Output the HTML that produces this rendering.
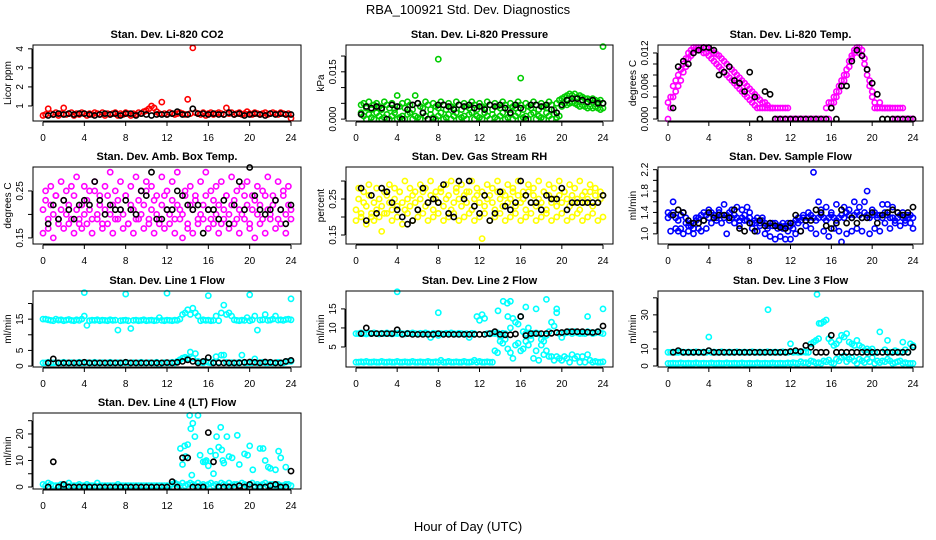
<!DOCTYPE html>
<html><head><meta charset="utf-8">
<style>
html,body{margin:0;padding:0;background:#fff;}
svg{display:block;font-family:"Liberation Sans",sans-serif;}
</style></head>
<body>
<svg id="chart" width="936" height="540" viewBox="0 0 936 540">
<text x="468" y="14" text-anchor="middle" font-size="13">RBA_100921  Std. Dev. Diagnostics</text>
<text x="468" y="531" text-anchor="middle" font-size="13">Hour of Day (UTC)</text>
</svg>
<script>
// ---------- data ----------
const hourTicks = [0,4,8,12,16,20,24];
const co2Red = "0.5 0.55 0.85 0.6 0.55 0.65 0.5 0.6 0.9 0.55 0.6 0.65 0.5 0.6 0.55 0.65 0.6 0.5 0.6 0.55 0.65 0.6 0.55 0.65 0.5 0.6 0.55 0.6 0.65 0.5 0.6 0.55 0.65 0.6 0.5 0.6 0.55 0.65 0.6 0.7 0.75 0.85 1.0 0.9 0.7 0.6 1.2 0.6 0.55 0.65 0.6 0.55 0.6 0.65 0.6 0.55 1.35 0.6 4.05 0.65 0.6 0.55 0.65 0.5 0.6 0.65 0.55 0.6 0.65 0.6 0.55 0.9 0.6 0.65 0.55 0.6 0.65 0.55 0.6 0.7 0.6 0.55 0.65 0.6 0.55 0.6 0.65 0.55 0.6 0.65 0.6 0.55 0.65 0.6 0.55 0.6 0.35".split(" ").map(Number);
const co2Black = "0.5 0.55 0.6 0.55 0.6 0.55 0.6 0.6 0.55 0.5 0.55 0.6 0.55 0.6 0.5 0.6 0.6 0.5 0.6 0.55 0.5 0.55 0.55 0.55 0.6 0.7 0.55 0.55 0.85 0.6 0.6 0.55 0.6 0.55 0.55 0.65 0.55 0.6 0.5 0.55 0.6 0.55 0.5 0.6 0.55 0.6 0.55 0.55".split(" ").map(Number);
const presGreenLo = "NaN NaN 0.002 0.001 0 0.0015 0.0005 0 0.002 0.001 0 0.0005 0.0015 0 0.001 0.002 0 0.0005 0.001 0 0.0015 0.002 0 0.001 0.0005 0 0.002 0.001 0 0.0015 0.0005 0 0.001 0.002 0 0.0005 0.0015 0 0.001 0.002 0 0.0005 0.001 0 0.0015 0.002 0 0.001 0.0005 0 0.002 0.001 0 0.0015 0.0005 0 0.001 0.002 0 0.0005 0.0015 0 0.001 0.002 0 0.0005 0.001 0 0.0015 0.002 0 0.001 0.0005 0 0.002 0.001 0 0.0015 0.0005 0.001 0.004 0.005 0.0045 0.005 0.0055 0.005 0.0045 0.004 0.0045 0.004 0.0035 0.004 0.0035 0.004 0.0035 0.003 0.0035".split(" ").map(Number);
const presGreenHi = "NaN NaN 0.0045 0.005 0.0035 0.0055 0.003 0.0045 0.005 0.004 0.003 0.0055 0.0045 0.0035 0.005 0.003 0.0075 0.004 0.005 0.0035 0.0055 0.0045 0.003 0.0075 0.005 0.004 0.0035 0.0055 0.0045 0.003 0.005 0.004 0.0035 0.0055 0.0045 0.003 0.005 0.004 0.0035 0.0055 0.0045 0.003 0.005 0.004 0.0035 0.0055 0.0045 0.003 0.005 0.004 0.0035 0.0055 0.0045 0.003 0.005 0.004 0.0035 0.0055 0.0045 0.003 0.005 0.004 0.0035 0.0055 0.0045 0.003 0.005 0.004 0.0035 0.0055 0.0045 0.003 0.005 0.004 0.0035 0.0055 0.0045 0.003 0.005 0.006 0.0065 0.007 0.0075 0.008 0.0075 0.008 0.007 0.0075 0.007 0.0065 0.0065 0.006 0.0065 0.006 0.0055 0.006 0.005".split(" ").map(Number);
const presOutX = [8,16,24];
const presOutY = [0.019,0.013,0.023];
const presBlack = "0.0015 0.004 0.0035 0.004 0.0035 0 0.0045 0.004 0 0.003 0.0045 0.005 0.002 0 0 0.0045 0.0045 0.004 0.003 0.0045 0.004 0.0045 0.0035 0.004 0.003 0.0045 0.004 0.0045 0.0035 0.002 0.0045 0.0035 0 0.0045 0.0045 0.004 0.0045 0.003 0.002 0.0045 0.006 0.0065 0.0065 0.006 0.0055 0.006 0.005 0.005".split(" ").map(Number);
const tempMain = "0 0.004 0.006 0.007 0.008 0.009 0.010 0.011 0.012 0.0125 0.013 0.013 0.013 0.013 0.013 0.013 0.0128 0.0125 0.012 0.0118 0.0115 0.011 0.0105 0.010 0.0095 0.009 0.0085 0.008 0.0075 0.007 0.0065 0.006 0.0055 0.005 0.0045 0.004 0.0035 0.003 0.003 0.0025 0.002 0.002 0 0 0 0 0 0 0 0 0 0 0 0 0 0 0 0 0 0 0 0 0 0 0.003 0.004 0.005 0.006 0.007 0.008 0.009 0.0105 0.0115 0.0125 0.013 0.013 0.0125 0.011 0.009 0.007 0.005 0.003 0.002 0.002 0.002 0.002 0.002 0.002 0 0 0 0 0.002 0 0 0 0".split(" ").map(Number);
const tempSpread = "0.003 0.002 0.004 0.005 0.006 0.007 0.0085 0.0095 0.011 0.0115 0.012 0.0125 0.0125 0.0125 0.012 0.012 0.0115 0.011 0.0105 0.010 0.0095 0.009 0.0085 0.008 0.0075 0.007 0.0065 0.006 0.0055 0.005 0.0045 0.004 0.0035 0.003 0.0025 0.002 0.002 0.002 0.002 0.002 0.002 0.002 0.002 0.002 0.002 0.002 0.002 0.002 0 0 0 0 0 0 0 0 0 0 0 0 0 0 0.002 0.003 0.002 0.003 0.004 0.005 0.006 0.007 0.008 0.0095 0.011 0.012 0.0125 0.012 0.0115 0.010 0.008 0.006 0.004 0.002 0.002 0.003 0.002 0.002 0.002 0.002 0.002 0.002 0.002 0.002 0 0 0 0 0".split(" ").map(Number);
const tempBlack = "0.002 0.0095 0.0105 0.010 0.012 0.0125 0.013 0.013 0.0125 0.008 0.0085 0.0095 0.007 0.0065 0.005 0.0085 0.004 0 0.005 0.0045 0 0 0 0 0 0 0 0 0 0 0 0.002 0 0.006 0.006 0.0105 0.0125 0.0115 0.009 0.0065 0.0045 0 0 0 0 0 0 0".split(" ").map(Number);
const ambA = "0.21 0.23 0.19 0.22 0.2 0.24 0.18 0.21 0.23 0.2 0.22 0.19 0.24 0.21 0.18 0.22 0.2 0.23 0.21 0.19 0.25 0.2 0.22 0.18 0.21 0.24 0.2 0.22 0.19 0.23 0.21 0.2 0.24 0.18 0.22 0.21 0.19 0.23 0.2 0.22 0.25 0.19 0.21 0.23 0.2 0.18 0.22 0.24 0.21 0.2 0.23 0.19 0.22 0.21 0.2 0.24 0.18 0.22 0.21 0.23 0.19 0.2 0.22 0.24 0.21 0.19 0.23 0.2 0.22 0.18 0.21 0.24 0.2 0.22 0.23 0.19 0.21 0.2 0.24 0.22 0.18 0.21 0.23 0.2 0.22 0.19 0.24 0.21 0.2 0.22 0.23 0.19 0.21 0.24 0.2 0.22 0.21".split(" ").map(Number);
const ambB = "0.16 0.25 0.17 0.26 0.15 0.24 0.19 0.27 0.17 0.25 0.18 0.26 0.16 0.28 0.19 0.17 0.26 0.18 0.25 0.16 0.27 0.19 0.24 0.17 0.26 0.18 0.29 0.16 0.25 0.19 0.27 0.17 0.24 0.18 0.26 0.16 0.28 0.19 0.25 0.17 0.27 0.18 0.26 0.16 0.24 0.19 0.28 0.17 0.25 0.18 0.27 0.16 0.29 0.19 0.15 0.25 0.17 0.26 0.16 0.24 0.18 0.27 0.19 0.29 0.17 0.25 0.18 0.26 0.16 0.27 0.19 0.24 0.17 0.28 0.18 0.25 0.16 0.26 0.19 0.27 0.17 0.24 0.15 0.26 0.18 0.25 0.16 0.28 0.19 0.24 0.17 0.27 0.18 0.25 0.16 0.26 0.19".split(" ").map(Number);
const ambBlack = "0.18 0.22 0.19 0.23 0.21 0.19 0.22 0.23 0.22 0.27 0.23 0.2 0.22 0.21 0.21 0.23 0.21 0.2 0.25 0.24 0.29 0.19 0.19 0.21 0.21 0.25 0.24 0.22 0.21 0.22 0.16 0.21 0.21 0.19 0.23 0.18 0.22 0.27 0.21 0.3 0.24 0.21 0.2 0.21 0.23 0.21 0.18 0.22".split(" ").map(Number);
const rhA = "0.22 0.25 0.21 0.24 0.23 0.26 0.2 0.24 0.22 0.25 0.23 0.21 0.26 0.24 0.22 0.25 0.23 0.27 0.24 0.22 0.25 0.23 0.26 0.24 0.22 0.25 0.27 0.23 0.24 0.26 0.22 0.25 0.24 0.27 0.23 0.25 0.26 0.22 0.24 0.27 0.25 0.23 0.26 0.24 0.27 0.22 0.25 0.26 0.24 0.27 0.23 0.25 0.26 0.24 0.22 0.27 0.25 0.23 0.26 0.24 0.25 0.27 0.23 0.26 0.24 0.25 0.22 0.27 0.24 0.26 0.23 0.25 0.24 0.27 0.22 0.26 0.24 0.25 0.23 0.26 0.24 0.27 0.25 0.23 0.26 0.24 0.25 0.22 0.26 0.24 0.25 0.27 0.23 0.26 0.24 0.25 0.26".split(" ").map(Number);
const rhB = "0.19 0.28 0.2 0.27 0.18 0.29 0.21 0.19 0.28 0.2 0.16 0.27 0.21 0.29 0.19 0.28 0.2 0.27 0.18 0.3 0.21 0.28 0.19 0.27 0.2 0.29 0.21 0.28 0.19 0.3 0.2 0.27 0.21 0.28 0.19 0.29 0.2 0.3 0.21 0.28 0.19 0.29 0.2 0.27 0.21 0.3 0.19 0.28 0.2 0.14 0.21 0.29 0.19 0.28 0.2 0.3 0.21 0.27 0.19 0.29 0.2 0.28 0.21 0.3 0.19 0.27 0.2 0.29 0.21 0.28 0.19 0.3 0.2 0.27 0.21 0.29 0.19 0.28 0.2 0.3 0.21 0.27 0.19 0.29 0.2 0.28 0.21 0.3 0.19 0.27 0.2 0.29 0.21 0.28 0.19 0.27 0.2".split(" ").map(Number);
const rhBlack = "0.28 0.19 0.26 0.21 0.28 0.27 0.24 0.22 0.2 0.18 0.19 0.22 0.28 0.24 0.25 0.24 0.29 0.21 0.2 0.3 0.25 0.3 0.23 0.21 0.26 0.19 0.21 0.27 0.23 0.22 0.24 0.3 0.26 0.24 0.24 0.22 0.26 0.25 0.25 0.28 0.22 0.24 0.24 0.24 0.24 0.24 0.24 0.26".split(" ").map(Number);
const flowA = "1.3 1.35 1.4 1.3 1.25 1.35 1.4 1.3 1.15 1.2 1.1 1.25 1.3 1.35 1.4 1.35 1.3 1.4 1.35 1.3 1.4 1.35 1.3 1.35 1.4 1.3 1.35 1.3 1.25 1.3 1.35 1.25 1.3 1.2 1.25 1.3 1.2 1.25 1.2 1.15 1.2 1.15 1.2 1.1 1.15 1.2 1.15 1.2 1.15 1.2 1.25 1.2 1.25 1.3 1.25 1.3 1.35 1.3 1.25 1.3 1.35 1.3 1.25 1.3 1.35 1.3 1.25 1.3 1.35 1.3 1.4 1.35 1.3 1.35 1.4 1.35 1.3 1.4 1.35 1.3 1.35 1.4 1.3 1.35 1.3 1.4 1.35 1.3 1.3 1.25 1.3 1.35 1.3 1.25 1.3 1.35 1.3".split(" ").map(Number);
const flowB = "1.4 1.05 1.6 1.1 1.05 1.1 1.0 1.2 1.05 1.15 1.0 1.3 1.1 1.05 1.25 1.1 1.45 1.2 1.35 1.25 1.45 1.2 1.55 1.0 1.25 1.45 1.2 1.5 1.15 1.45 1.25 1.5 1.4 1.1 1.2 1.05 1.15 1.3 1.0 1.1 0.95 1.2 0.9 1.15 0.95 1.1 0.9 1.05 0.9 1.1 1.0 1.3 1.05 1.35 1.15 1.4 1.1 2.15 1.0 1.6 1.45 1.05 1.5 0.95 1.4 1.1 1.55 1.05 0.85 1.5 1.0 1.45 1.05 1.6 1.1 1.5 1.05 1.6 1.8 1.0 1.45 1.1 1.35 1.05 1.55 1.2 1.55 1.1 1.5 1.2 1.4 1.15 1.4 1.2 1.35 1.2 1.1".split(" ").map(Number);
const flowBlack = "1.35 1.45 1.4 1.25 1.2 1.2 1.25 1.4 1.3 1.35 1.35 1.3 1.45 1.1 1.05 1.2 1.05 1.25 1.15 1.2 1.15 1.12 1.1 1.2 1.35 1.05 1.25 1.25 1.45 1.4 1.15 1.1 1.2 1.45 1.2 1.3 1.2 1.3 1.3 1.4 1.2 1.35 1.4 1.45 1.4 1.35 1.4 1.5".split(" ").map(Number);
const line1Upper = "15 15 14.8 14.6 14.5 15 14.7 14.8 14.5 14.7 14.9 14.6 14.5 14.8 14.6 15 16 13 14.5 14.7 14.6 14.8 14.5 14.7 14.6 14.5 14.8 14.6 14.7 11.5 14.5 14.6 14.7 14.5 12 14.6 14.7 14.5 14.6 14.8 14.5 14.6 14.7 14.5 14.6 15.5 14.6 14.5 14.7 14.6 14.5 14.7 14.6 15 16.5 17 18 16.5 18.5 17 16 14.5 14.8 14.6 14.7 14.5 14.6 16 14.5 17 19.5 16.5 17 16 14.8 14.6 14.5 14.7 14.6 15.5 14.5 14.8 16 11.5 14.7 14.8 16.5 14.6 14.7 15 16 14.7 14.8 14.6 14.9 15 14.8".split(" ").map(Number);
const line1Lower = "1 1 1.2 1 1 1.1 1 1 1.2 1 1 1.1 1 1 1.2 1 1 1.1 1 1 1.2 1 1 1.1 1 1 1.2 1 1 1.1 1 1 1.2 1 1 1.1 1 1 1.2 1 1 1.1 1 1 1.2 0.5 1 1.1 1 1 1.2 1 1.5 2 2.5 2.8 2.5 4.5 2.5 4 1.5 1.2 1 1.5 1.2 1 1.2 3 1.2 3.5 3.5 1.2 1 1.1 1 1 1.2 3.5 1 1 1.1 1 2.3 1 1.1 1.2 1 1 1.1 1 1 1.2 1 1 1.3 1.5 1.5".split(" ").map(Number);
const line1OutX = [4,8,12,16,20,24];
const line1OutY = [23.5,23,23.3,22.5,22.8,21.5];
const line1Black = "1 2.3 1 1 1 1 1 1.2 1 1 1 1 1 1 1 1.2 1 1 1 1 1 1 1 1.1 1 1.2 1.5 2 1.5 1 1.5 2.7 1 1 1 1 1 1 1.2 1.3 1.2 1 1.3 1.2 1 1 1.5 1.8".split(" ").map(Number);
const line2Upper = "8.5 8.5 8.7 8.5 8.4 8.6 8.5 8.7 8.5 8.4 8.6 8.5 8.7 8.5 8.4 8.6 8.5 8.7 8.5 8.4 8.6 8.5 8.7 8.5 8.4 8.6 8.5 8.7 8.5 7.5 8.6 8.5 8 8.5 8.4 8.6 8.5 8.7 8.5 8.4 8.6 8.5 8.4 8.5 7.5 8.6 8.5 13 12 13.5 12.5 8.5 8.4 8.6 8.5 8.7 7.8 8.6 8.5 13 10 12.5 11.5 11 13 9 8.5 10 8 8.6 8.7 8.5 7 6.5 8 9 11.5 10.5 14 8.5 7.5 8.6 8.8 9 8.5 9 8.7 8.5 8.6 8.5 9 8.8 8.5 8.7 9 8.7 8.5".split(" ").map(Number);
const line2Lower = "1 1 1.1 1 1.2 1 1 1.1 1 1 1.2 1 1 1.1 1 1 1.2 1 1 1.1 1 1 1.2 1 1 1.1 1 1 1.2 1 1 1.1 1 1.5 1 1 1.2 1 1 1.1 1 1 1.2 1 1 1.1 1.5 1 1.2 1 1 1.1 1 1 4 3.5 6.5 6 7 4.5 3.5 2 5.5 6 4 4.5 6.5 5.5 7 2 4 1.5 5.5 3 4 2.5 2.5 1.5 2.5 2 1.5 2.5 2 1 3 2 2.5 1 2.5 1 3 1.5 1 1.2 1 1 1.1".split(" ").map(Number);
const line2OutX = [4,8,14.3,14.7,15,16.5,18.5,19.5,22.5,24,13.8,17.5];
const line2OutY = [19.5,14,17,16.5,17,15.5,17.5,15,13,15,14.5,15];
const line2Black = "8.5 10 8.5 8.5 8.5 8.5 8.5 9.5 8.3 8.5 8.3 8.3 8.3 8.3 8.3 8.5 8.3 8.3 8.3 8.3 8.3 8.3 8.3 8.3 8.3 8.5 9 8.3 8.2 8.2 8.4 13 8 8.5 8.5 8.5 8.5 8.6 8.8 8.8 9 9 9 9 8.9 8.8 9 10.5".split(" ").map(Number);
const line3Upper = "8 8 8.2 8 8 8.3 8 8 8.2 8 8 8.3 8 8 8.2 8 17 8 8.2 8 8 8.3 8 8 8.2 8 8 8.3 8 8 8.2 8 8 8.3 8 8 8.2 8 8 8.3 8 8 8.2 8 8 8.3 8 8 13 8 8.2 8 8 8.3 8 8 13 14 15 16 25 26 27 16 14 12 13 15 18 17 19 14 13 12 15 12 11 9 10 9 10 8 8 20 8 9.5 15 8 8 9 8.3 8 14 9.5 8 13 12".split(" ").map(Number);
const line3Lower = "1.5 1.5 1.7 1.5 1.5 1.8 1.5 1.5 1.7 1.5 1.5 1.8 1.5 1.5 1.7 1.5 1.5 1.8 1.5 1.5 1.7 1.5 1.5 1.8 1.5 1.5 1.7 1.5 1.5 1.8 1.5 1.5 1.7 1.5 1.5 1.8 1.5 1.5 1.7 1.5 1.5 1.8 1.5 1.5 1.7 1.5 1.5 1.8 1.5 2 1.7 1.5 2.5 1.8 2 1.5 3 2.5 1.7 2 1.5 3 2.5 3.5 2 1.5 4 3 5 6 2.5 4 5 3 1.5 4 3 2 4 2.5 5 1.5 3 2 3 2.5 4 3 1.5 2 2.5 3 1.5 2 1.5 1.5 1.5".split(" ").map(Number);
const line3OutX = [9.8,14.6,14.8,15];
const line3OutY = [33,42,25,25];
const line3Black = "8 9 8 8 8 8 8 9 8 8 8 8 8 8 8 8 8 8 8 8 8 8 8 8.5 9 8.5 12 11 8 8 8 18 8 8 8 8 8 8 8 8 8 8 8 8 8 8 8 11".split(" ").map(Number);
const line4Band = "1 0.5 1.5 1 0.5 0.5 0.5 1 0.5 0.5 1.5 0.5 0.5 0.5 1 0.5 0.5 1 0.5 0.5 0.5 1.5 0.5 0.5 0.5 0.5 0.5 0.5 0.5 1 0.5 0.5 0.5 0.5 0.5 0.5 0.5 0.5 0.5 0.5 0.5 0.5 0.5 0.5 0.5 0.5 0.5 0.5 0.5 0.5 1 1.5 1 0.5 1.5 0.5 1 1.5 1 0.5 1.5 0.5 1 0.5 1 1.5 0.5 1 0.5 1.5 1 0.5 1.5 0.5 1 1 0.5 1.5 1 0.5 1 1.5 0.5 1 0.5 1 1.5 0.5 1 1 0.5 1 0.5 0.5 1 1 0.5".split(" ").map(Number);
const line4OutX = [13.3,13.5,13.7,14,14.2,14.4,14.5,14.7,15,15.2,15.5,15.8,16,16.2,16.5,16.8,17,17.2,17.4,17.5,17.8,18,18.3,18.8,19,19.5,20,20.3,21,21.3,21.5,21.8,22,22.5,22.8,23,23.5,13.8,14.3,15.7,16.7,17.3,19.8];
const line4OutY = [14.5,8.5,15.5,16,27,4.5,24,19,27,12,9.5,10,8,13.5,5,19,15,22.5,10,9,19,11.5,11,19.5,8.5,12.5,15.5,6.5,14.5,14.5,10,7.5,7,6.5,13.5,11,7.5,11.5,22,9.5,12,14,12];
const line4Black = "0 9.5 0 1 0 0 0 0 0 0 0 0 0 0 0 0 0 0 0 0 0 0 0 0 2 0 11 11 0 0 0 20.5 9.5 0 0 0 0 0.5 0 1 0 0 0 0.5 1 0 0 6".split(" ").map(Number);

// ---------- drawing ----------
const NS = "http://www.w3.org/2000/svg";
const svg = document.getElementById("chart");
const COL = {red:"#ff0000",green:"#00cd00",mag:"#ff00ff",yel:"#ffff00",blue:"#0000ff",cyan:"#00ffff",blk:"#000000"};
function mk(tag, attrs, parent){
  const e = document.createElementNS(NS, tag);
  for (const k in attrs) e.setAttribute(k, attrs[k]);
  (parent||svg).appendChild(e);
  return e;
}
function quarterSeries(vals){ return {xs: vals.map((v,i)=>i*0.25), ys: vals}; }
function halfSeries(vals){ return {xs: vals.map((v,i)=>(i+1)*0.5), ys: vals}; }

function panel(cfg){
  const g = mk("g", {});
  
  
  const [L,R] = cfg.box, [T,B] = cfg.rows;
  const x0 = L + 10, x24 = R - 10;
  const sx = h => x0 + (x24 - x0) * h / 24;
  const sy = v => B - (B - T) * (v - cfg.yLo) / (cfg.yHi - cfg.yLo);
  const t = mk("text", {x:(L+R)/2, y:T-7, "text-anchor":"middle", "font-size":"11", "font-weight":"bold"}, g);
  t.textContent = cfg.title;
  
  
  // points
  const pts = mk("g", {fill:"none", "stroke-width":"1.6"}, g);
  
  
  cfg.series.forEach(s => {
    for (let i = 0; i < s.xs.length; i++) {
      const v = s.ys[i];
      if (v === undefined || isNaN(v)) continue;
      const c = mk("circle", {cx: sx(s.xs[i]).toFixed(1), cy: sy(v).toFixed(1), r: 2.6, stroke: s.color}, pts);
      
      
    }
  });
  const box = mk("rect", {x:L, y:T, width:R-L, height:B-T, fill:"none", stroke:"#000", "stroke-width":"1"}, g);
  
  
  // x axis
  mk("line", {x1:sx(0), x2:sx(24), y1:B+1, y2:B+1, stroke:"#000"}, g);
  hourTicks.forEach(h => {
    mk("line", {x1:sx(h), x2:sx(h), y1:B+1, y2:B+5, stroke:"#000"}, g);
    const tl = mk("text", {x:sx(h), y:B+20, "text-anchor":"middle", "font-size":"10"}, g);
    tl.textContent = h;
    
    
  });
  // y axis
  const ty = cfg.ticks;
  mk("line", {x1:L-1, x2:L-1, y1:sy(ty[0]), y2:sy(ty[ty.length-1]), stroke:"#000"}, g);
  ty.forEach((v,i) => {
    mk("line", {x1:L-5, x2:L-1, y1:sy(v), y2:sy(v), stroke:"#000"}, g);
    if (cfg.labels[i] !== "") {
      const yy = sy(v), xx = L - 10;
      const tl = mk("text", {x:xx, y:yy, "text-anchor":"middle", "font-size":"10", transform:`rotate(-90 ${xx} ${yy})`}, g);
      tl.textContent = cfg.labels[i];
      
      
    }
  });
  const yc = (T+B)/2, xt = L - 22;
  const at = mk("text", {x:xt, y:yc, "text-anchor":"middle", "font-size":"10", transform:`rotate(-90 ${xt} ${yc})`}, g);
  at.textContent = cfg.ylab;
  
  
}

const C1=[33,301], C2=[346,613], C3=[658,923];
const R1=[45,121], R2=[167,244], R3=[291,367], R4=[413,489];

panel({name:"co2-panel", title:"Stan. Dev. Li-820 CO2", box:C1, rows:R1, yLo:0.21, yHi:4.2, ticks:[1,2,3,4], labels:["1","2","3","4"], ylab:"Licor ppm",
  series:[Object.assign(quarterSeries(co2Red),{color:COL.red}), Object.assign(halfSeries(co2Black),{color:COL.blk})]});
panel({name:"pressure-panel", title:"Stan. Dev. Li-820 Pressure", box:C2, rows:R1, yLo:-0.0006, yHi:0.0235, ticks:[0,0.005,0.01,0.015,0.02], labels:["0.000","","","0.015",""], ylab:"kPa",
  series:[Object.assign(quarterSeries(presGreenLo),{color:COL.green}), Object.assign(quarterSeries(presGreenHi),{color:COL.green}), {xs:presOutX, ys:presOutY, color:COL.green}, Object.assign(halfSeries(presBlack),{color:COL.blk})]});
panel({name:"li820-temp-panel", title:"Stan. Dev. Li-820 Temp.", box:C3, rows:R1, yLo:-0.00036, yHi:0.01345, ticks:[0,0.002,0.004,0.006,0.008,0.01,0.012], labels:["0.000","","","0.006","","","0.012"], ylab:"degrees C",
  series:[Object.assign(quarterSeries(tempSpread),{color:COL.mag}), Object.assign(quarterSeries(tempMain),{color:COL.mag}), Object.assign(halfSeries(tempBlack),{color:COL.blk})]});
panel({name:"amb-box-temp-panel", title:"Stan. Dev. Amb. Box Temp.", box:C1, rows:R2, yLo:0.137, yHi:0.301, ticks:[0.15,0.2,0.25], labels:["0.15","","0.25"], ylab:"degrees C",
  series:[Object.assign(quarterSeries(ambB),{color:COL.mag}), Object.assign(quarterSeries(ambA),{color:COL.mag}), Object.assign(halfSeries(ambBlack),{color:COL.blk})]});
panel({name:"gas-rh-panel", title:"Stan. Dev. Gas Stream RH", box:C2, rows:R2, yLo:0.125, yHi:0.339, ticks:[0.15,0.2,0.25,0.3], labels:["0.15","","0.25",""], ylab:"percent",
  series:[Object.assign(quarterSeries(rhB),{color:COL.yel}), Object.assign(quarterSeries(rhA),{color:COL.yel}), Object.assign(halfSeries(rhBlack),{color:COL.blk})]});
panel({name:"sample-flow-panel", title:"Stan. Dev. Sample Flow", box:C3, rows:R2, yLo:0.81, yHi:2.25, ticks:[1.0,1.2,1.4,1.6,1.8,2.0,2.2], labels:["1.0","","1.4","","1.8","","2.2"], ylab:"ml/min",
  series:[Object.assign(quarterSeries(flowB),{color:COL.blue}), Object.assign(quarterSeries(flowA),{color:COL.blue}), Object.assign(halfSeries(flowBlack),{color:COL.blk})]});
panel({name:"line1-flow-panel", title:"Stan. Dev. Line 1 Flow", box:C1, rows:R3, yLo:-0.3, yHi:24, ticks:[0,5,10,15,20], labels:["0","5","","15",""], ylab:"ml/min",
  series:[Object.assign(quarterSeries(line1Upper),{color:COL.cyan}), Object.assign(quarterSeries(line1Lower),{color:COL.cyan}), {xs:line1OutX, ys:line1OutY, color:COL.cyan}, Object.assign(halfSeries(line1Black),{color:COL.blk})]});
panel({name:"line2-flow-panel", title:"Stan. Dev. Line 2 Flow", box:C2, rows:R3, yLo:-0.26, yHi:19.7, ticks:[5,10,15], labels:["5","10","15"], ylab:"ml/min",
  series:[Object.assign(quarterSeries(line2Upper),{color:COL.cyan}), Object.assign(quarterSeries(line2Lower),{color:COL.cyan}), {xs:line2OutX, ys:line2OutY, color:COL.cyan}, Object.assign(halfSeries(line2Black),{color:COL.blk})]});
panel({name:"line3-flow-panel", title:"Stan. Dev. Line 3 Flow", box:C3, rows:R3, yLo:-0.6, yHi:44, ticks:[0,10,20,30,40], labels:["0","10","","30",""], ylab:"ml/min",
  series:[Object.assign(quarterSeries(line3Upper),{color:COL.cyan}), Object.assign(quarterSeries(line3Lower),{color:COL.cyan}), {xs:line3OutX, ys:line3OutY, color:COL.cyan}, Object.assign(halfSeries(line3Black),{color:COL.blk})]});
panel({name:"line4-flow-panel", title:"Stan. Dev. Line 4 (LT) Flow", box:C1, rows:R4, yLo:-0.75, yHi:27.9, ticks:[0,5,10,15,20,25], labels:["0","","10","","20",""], ylab:"ml/min",
  series:[Object.assign(quarterSeries(line4Band),{color:COL.cyan}), {xs:line4OutX, ys:line4OutY, color:COL.cyan}, Object.assign(halfSeries(line4Black),{color:COL.blk})]});
</script>
</body></html>
